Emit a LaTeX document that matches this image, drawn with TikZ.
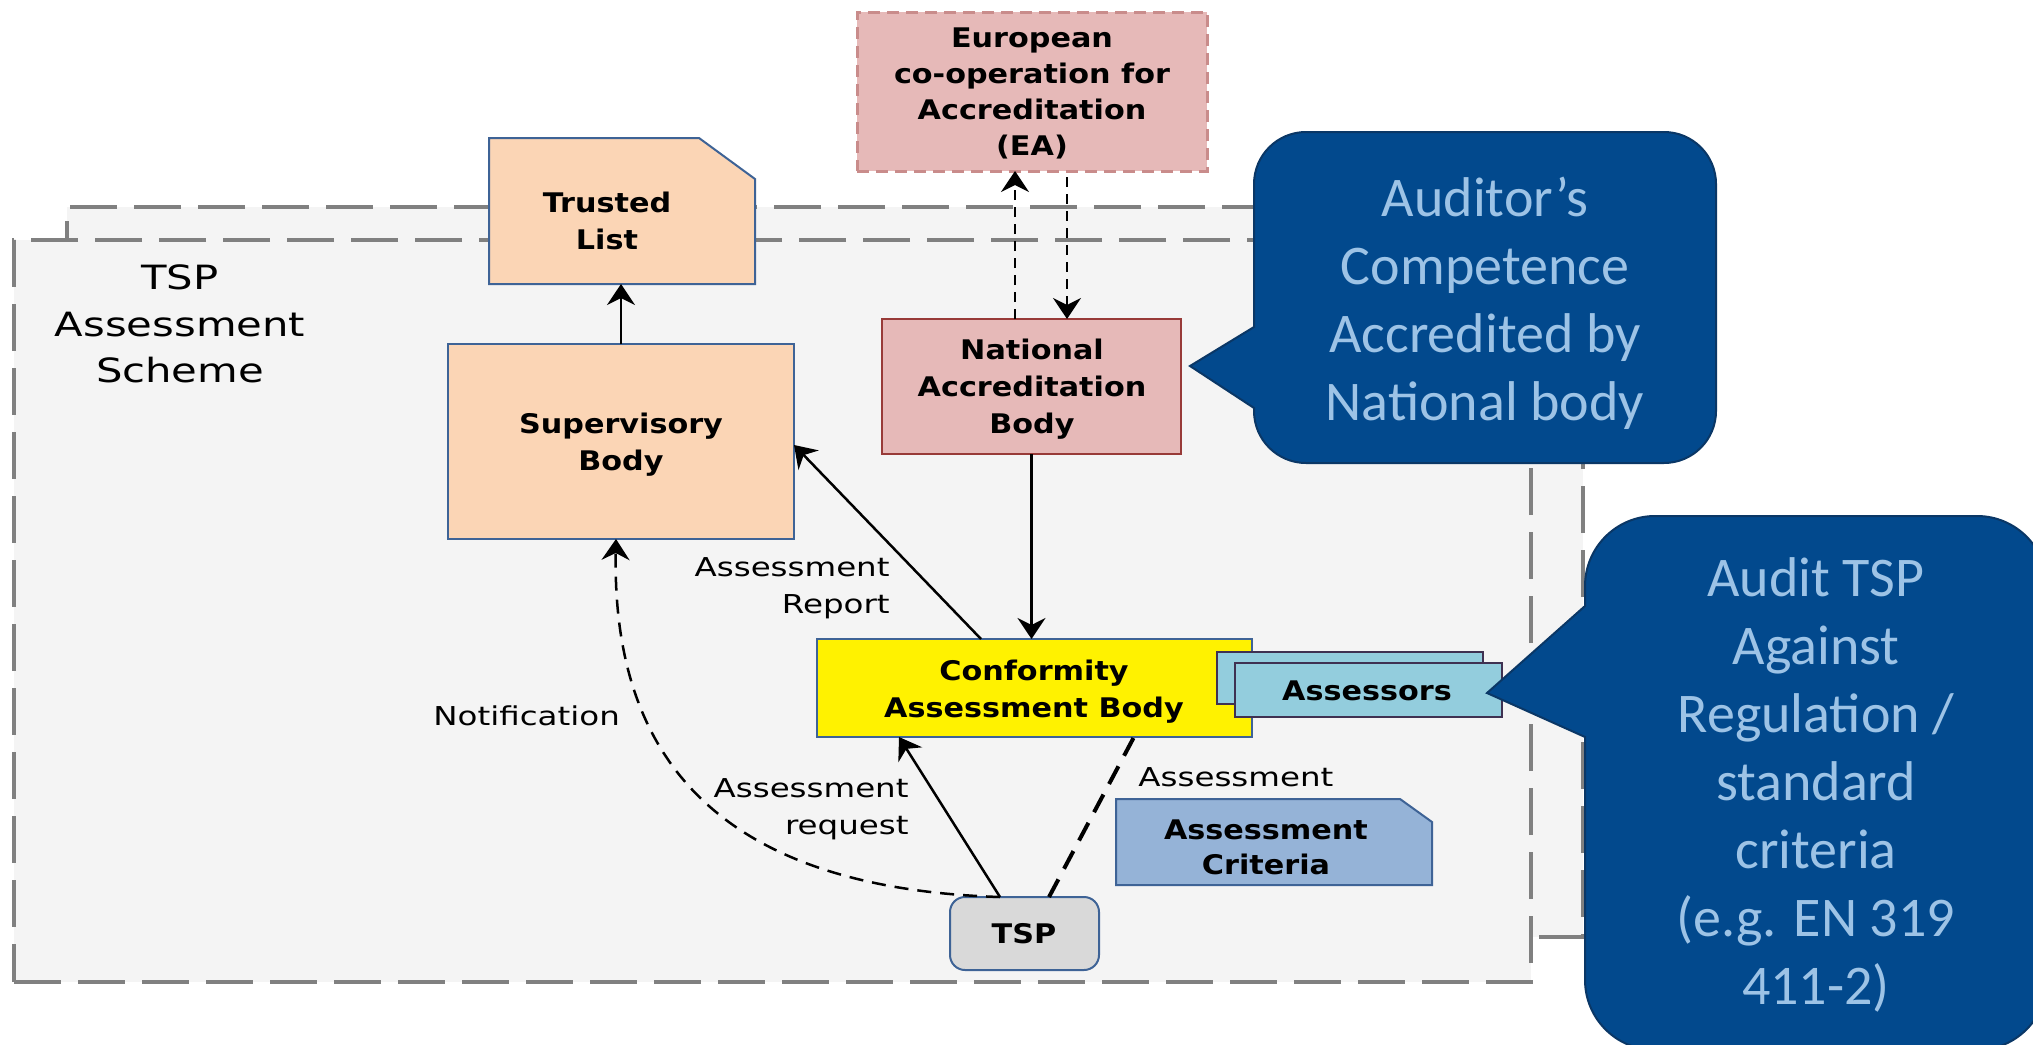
\documentclass[tikz,border=0pt]{standalone}
\usepackage{fontspec}
\usetikzlibrary{arrows.meta}
\newfontfamily\lblfont[FakeStretch=1.25]{DejaVu Sans}
\newfontfamily\bxfont[FakeStretch=1.12]{DejaVu Sans}
\newfontfamily\callfont{Carlito}
\definecolor{schemegray}{HTML}{808080}
\definecolor{schemefill}{HTML}{F4F4F4}
\definecolor{edgeblue}{HTML}{3E6396}
\definecolor{peach}{HTML}{FBD5B5}
\definecolor{pinkfill}{HTML}{E6B9B8}
\definecolor{eaedge}{HTML}{C98C8B}
\definecolor{nabedge}{HTML}{983A38}
\definecolor{assfill}{HTML}{93CDDD}
\definecolor{assedge}{HTML}{3F3151}
\definecolor{acfill}{HTML}{95B3D7}
\definecolor{tspfill}{HTML}{D9D9D9}
\definecolor{callfill}{HTML}{02498D}
\definecolor{callline}{HTML}{0A3766}
\definecolor{calltext}{HTML}{9DC3E6}
\begin{document}
\begin{tikzpicture}[x=0.5pt,y=-0.5pt,
  schemebox/.style={draw=schemegray, fill=schemefill, line width=2pt, dash pattern=on 23.5pt off 8.5pt, inner sep=0pt, outer sep=0pt},
  bodybox/.style={draw=edgeblue, line width=1pt, inner sep=0pt, outer sep=0pt},
  anchorbox/.style={inner sep=0pt, outer sep=0pt},
  btext/.style={font=\bxfont\bfseries\fontsize{13.5}{18.5}\selectfont, align=center, inner sep=0pt, text=black},
  ltext/.style={font=\lblfont\fontsize{13}{18.5}\selectfont, inner sep=0pt, text=black},
  calloutshape/.style={fill=callfill, draw=callline, line width=1pt, line join=miter},
  ctext/.style={font=\callfont\fontsize{28}{34}\selectfont, align=center, text=calltext, inner sep=0pt},
  arr/.style={line width=1.25pt, -{Stealth[length=10.5pt,width=14pt,inset=3.5pt]}},
]
\useasboundingbox (0,0) rectangle (2033,1044);
\clip (0,0) rectangle (2033,1044);
\fill[white] (0,0) rectangle (2033,1044);

% scheme frames
\node[schemebox, minimum width=758pt, minimum height=365pt] (back) at (825,572) {};
\node[schemebox, minimum width=758.5pt, minimum height=371pt] (front) at (772.5,611) {};
\node[font=\lblfont\fontsize{16.7}{23.3}\selectfont, align=center, inner sep=0pt] (schemelabel) at (180,324) {TSP\\Assessment\\Scheme};

% Trusted list
\node[anchorbox, minimum width=133pt, minimum height=73pt] (tl) at (622,211) {};
\draw[bodybox, fill=peach] (489,284) -- (489,138) -- (699,138) -- (755,179) -- (755,284) -- cycle;
\node[btext] (tltext) at (607,221) {Trusted\\List};

% Supervisory body
\node[bodybox, fill=peach, minimum width=173pt, minimum height=97.5pt] (sup) at (621,441.5) {};
\node[btext] (suptext) at (621,445) {Supervisory\\Body};

% EA
\node[draw=eaedge, fill=pinkfill, line width=1.5pt, dash pattern=on 6pt off 3.5pt, inner sep=0pt, outer sep=0pt, minimum width=175pt, minimum height=79.5pt] (ea) at (1032,91.5) {};
\node[btext, font=\bxfont\bfseries\fontsize{13.5}{18}\selectfont] (eatext) at (1032,93) {European\\co-operation for\\Accreditation\\(EA)};

% National Accreditation Body
\node[bodybox, draw=nabedge, fill=pinkfill, minimum width=149.5pt, minimum height=67.5pt] (nab) at (1031.5,386.5) {};
\node[btext] (nabtext) at (1032,389.5) {National\\Accreditation\\Body};

% CAB
\node[bodybox, fill=yellow, minimum width=217.5pt, minimum height=49pt] (cab) at (1034.5,688) {};
\node[btext] (cabtext) at (1034,691.5) {Conformity\\Assessment Body};

% Assessors
\node[bodybox, draw=assedge, fill=assfill, minimum width=133pt, minimum height=26pt] (assback) at (1350,678) {};
\node[bodybox, draw=assedge, fill=assfill, minimum width=133.5pt, minimum height=27pt] (assfront) at (1368.5,690) {};
\node[btext, anchor=base] (asstext) at (1367,700) {Assessors};

% Assessment criteria
\node[anchorbox, minimum width=158pt, minimum height=43pt] (ac) at (1274,842) {};
\draw[bodybox, fill=acfill] (1116,885) -- (1116,799) -- (1400,799) -- (1432,822) -- (1432,885) -- cycle;
\node[btext, font=\bxfont\bfseries\fontsize{13.5}{17.5}\selectfont] (actext) at (1266,847.5) {Assessment\\Criteria};

% TSP
\node[bodybox, fill=tspfill, rounded corners=7.5pt, minimum width=74.5pt, minimum height=36.5pt] (tsp) at (1024.5,933.5) {};
\node[btext, anchor=base] (tsptext) at (1024,943) {TSP};

% connectors
\draw[arr] (sup.north) -- (sup.north |- tl.south);
\draw[arr] ([xshift=82pt]cab.north west) -- ([yshift=-1.75pt]sup.east);
\draw[arr] (nab.south) -- (nab.south |- cab.north);
\coordinate (eaup) at ([xshift=-8.25pt]nab.north);
\coordinate (eadn) at ([xshift=17.5pt,yshift=-3pt]ea.south);
\draw[arr, dash pattern=on 5pt off 3.5pt] (eaup) -- (eaup |- ea.south);
\draw[arr, dash pattern=on 5pt off 3.5pt] (eadn) -- (eadn |- nab.north);
\coordinate (tspl) at ([xshift=-12.25pt]tsp.north);
\draw[arr] (tspl) -- ([xshift=41pt]cab.south west);
\draw[line width=2pt, dash pattern=on 10pt off 6pt] ([xshift=12.25pt]tsp.north) -- ([xshift=158.5pt]cab.south west);
\draw[arr, dash pattern=on 7pt off 4.5pt] (tspl) .. controls (710,888) and (612,750) .. ([xshift=-2.5pt]sup.south);

% labels
\node[ltext, align=right, anchor=east] (lblreport) at (890,588) {Assessment\\Report};
\node[ltext, align=right, anchor=east] (lblrequest) at (909,809) {Assessment\\request};
\node[ltext, anchor=base west] (lblnotif) at (433,725) {Notification};
\node[ltext, anchor=base west] (lblassess) at (1138,786) {Assessment};

% callout 1
\path[calloutshape] (1254,327) -- (1190,366) -- (1254,408) -- (1254,411)
  .. controls (1254,439.7) and (1277.3,463) .. (1306,463) -- (1664,463)
  .. controls (1692.7,463) and (1716,439.7) .. (1716,411) -- (1716,184)
  .. controls (1716,155.3) and (1692.7,132) .. (1664,132) -- (1306,132)
  .. controls (1277.3,132) and (1254,155.3) .. (1254,184) -- cycle;
\node[ctext] (call1text) at (1485,303) {Auditor’s\\Competence\\Accredited by\\National body};

% callout 2
\path[calloutshape] (1585,606) -- (1487,693) -- (1585,737) -- (1585,980)
  .. controls (1585,1018.6) and (1616.4,1050) .. (1655,1050) -- (1977,1050)
  .. controls (2015.6,1050) and (2047,1018.6) .. (2047,980) -- (2047,586)
  .. controls (2047,547.4) and (2015.6,516) .. (1977,516) -- (1655,516)
  .. controls (1616.4,516) and (1585,547.4) .. (1585,586) -- cycle;
\node[ctext] (call2text) at (1816,784.5) {Audit TSP\\Against\\Regulation /\\standard\\criteria\\(e.g. EN 319\\411-2)};
\end{tikzpicture}
\end{document}
